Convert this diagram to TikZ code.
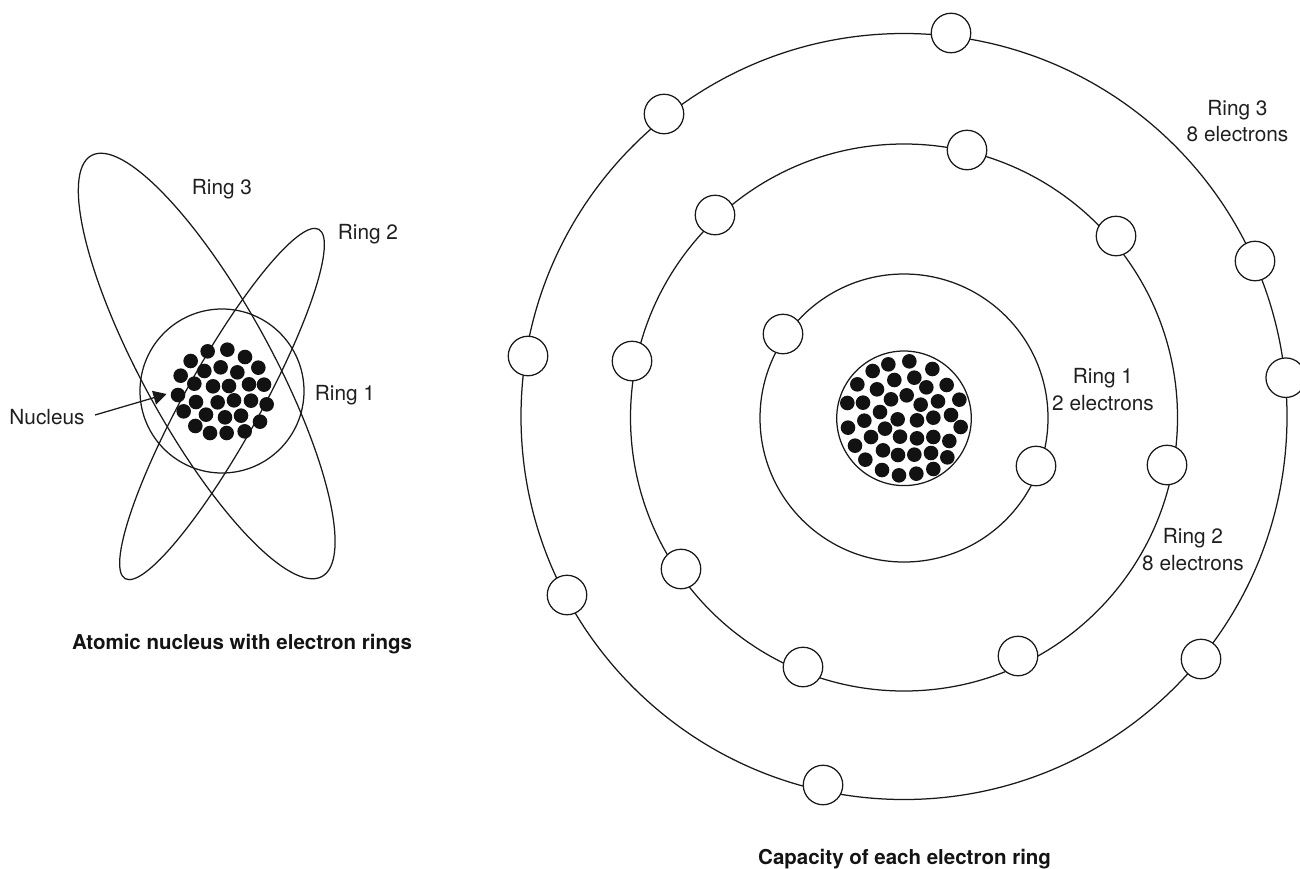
\documentclass[tikz,border=0pt]{standalone}
\usepackage{fontspec}
\setmainfont{TeX Gyre Heros}
\usetikzlibrary{arrows.meta}
\tikzset{
  ringline/.style={draw=black!90,line width=1.25pt},
  electron/.style={circle,draw=black!90,fill=white,line width=1.25pt,inner sep=0pt,minimum size=39.5pt},
  proton/.style={circle,fill=black!93,inner sep=0pt,minimum size=14.6pt},
  lbl/.style={inner sep=0pt,align=center,text=black!88,font=\fontsize{20.8}{26.5}\selectfont},
  ttl/.style={inner sep=0pt,align=center,text=black!92,font=\fontsize{20.5}{27}\selectfont\bfseries}
}
\begin{document}
\begin{tikzpicture}[x=1pt,y=-1pt]
\useasboundingbox (0,0) rectangle (1300,868);
% left atom
\draw[ringline] (222,391) circle [radius=82pt];
\draw[ringline,shift={(206.7,366)},rotate=-61.3] (0,0) ellipse [x radius=240pt,y radius=64.4pt];
\draw[ringline,shift={(222,404)},rotate=61] (0,0) ellipse [x radius=199.7pt,y radius=37.9pt];
\foreach \zx/\zy [count=\i] in {233/124,292/119,345/141,182/153,385/173,272/172,223/183,322/187,152/197,193/221,249/229,297/228,357/223,402/224,144/255,198/276,263/277,312/271,363/272,410/283,161/304,228/314,285/322,333/317,390/335,196/348,240/369,290/369,344/364}
  \node[proton] (a\i) at ({130+\zx/3},{310+\zy/3}) {};
\node[lbl] (lr3) at (222,189) {Ring 3};
\node[lbl] (lr2) at (368,234) {Ring 2};
\node[lbl] (lr1) at (345,395) {Ring 1};
\node[lbl] (nuc) at (47,417) {Nucleus};
\coordinate (tail) at (95,415);
\coordinate (tip) at (166.5,394);
\draw[line width=1.25pt,draw=black!90,-{Stealth[length=13pt,width=14pt,inset=0pt]}] (tail) -- (tip);
\node[ttl] (t1) at (242,644.5) {Atomic nucleus with electron rings};
% right atom
\draw[ringline] (904,418) circle [radius=144pt];
\draw[ringline] (904,417.5) circle [radius=273.5pt];
\draw[ringline] (904,416.5) circle [radius=383pt];
\draw[ringline] (904,418.3) circle [radius=67.3pt];
\foreach \zx/\zy [count=\i] in {205/73,268/64,337/87,158/93,223/120,283/113,112/133,319/142,380/135,171/148,213/178,260/166,82/189,129/188,302/194,354/184,418/179,180/216,393/225,133/242,233/238,291/241,340/233,84/263,422/261,195/266,153/291,240/290,291/295,340/291,388/303,105/317,189/331,234/345,283/344,333/339,382/352,136/359,186/390,237/406,289/401,340/387}
  \node[proton] (b\i) at ({820+\zx/3},{340+\zy/3}) {};
\foreach \x/\y [count=\i] in {951/33,664/114,1255/261,1285.7/377.7,528/356,567/595,1201/659,823/785,967/150,715/215,1116/236,632/361,1167/465,681/569,1018/656,803/667,783/334,1036/466}
  \node[electron] (e\i) at (\x,\y) {};
\node[lbl] (r3) at (1237.5,121) {Ring 3\\8 electrons};
\node[lbl] (r1) at (1103,389.5) {Ring 1\\2 electrons};
\node[lbl] (r2) at (1193,549.5) {Ring 2\\8 electrons};
\node[ttl] (t2) at (904.6,859.5) {Capacity of each electron ring};
\end{tikzpicture}
\end{document}
